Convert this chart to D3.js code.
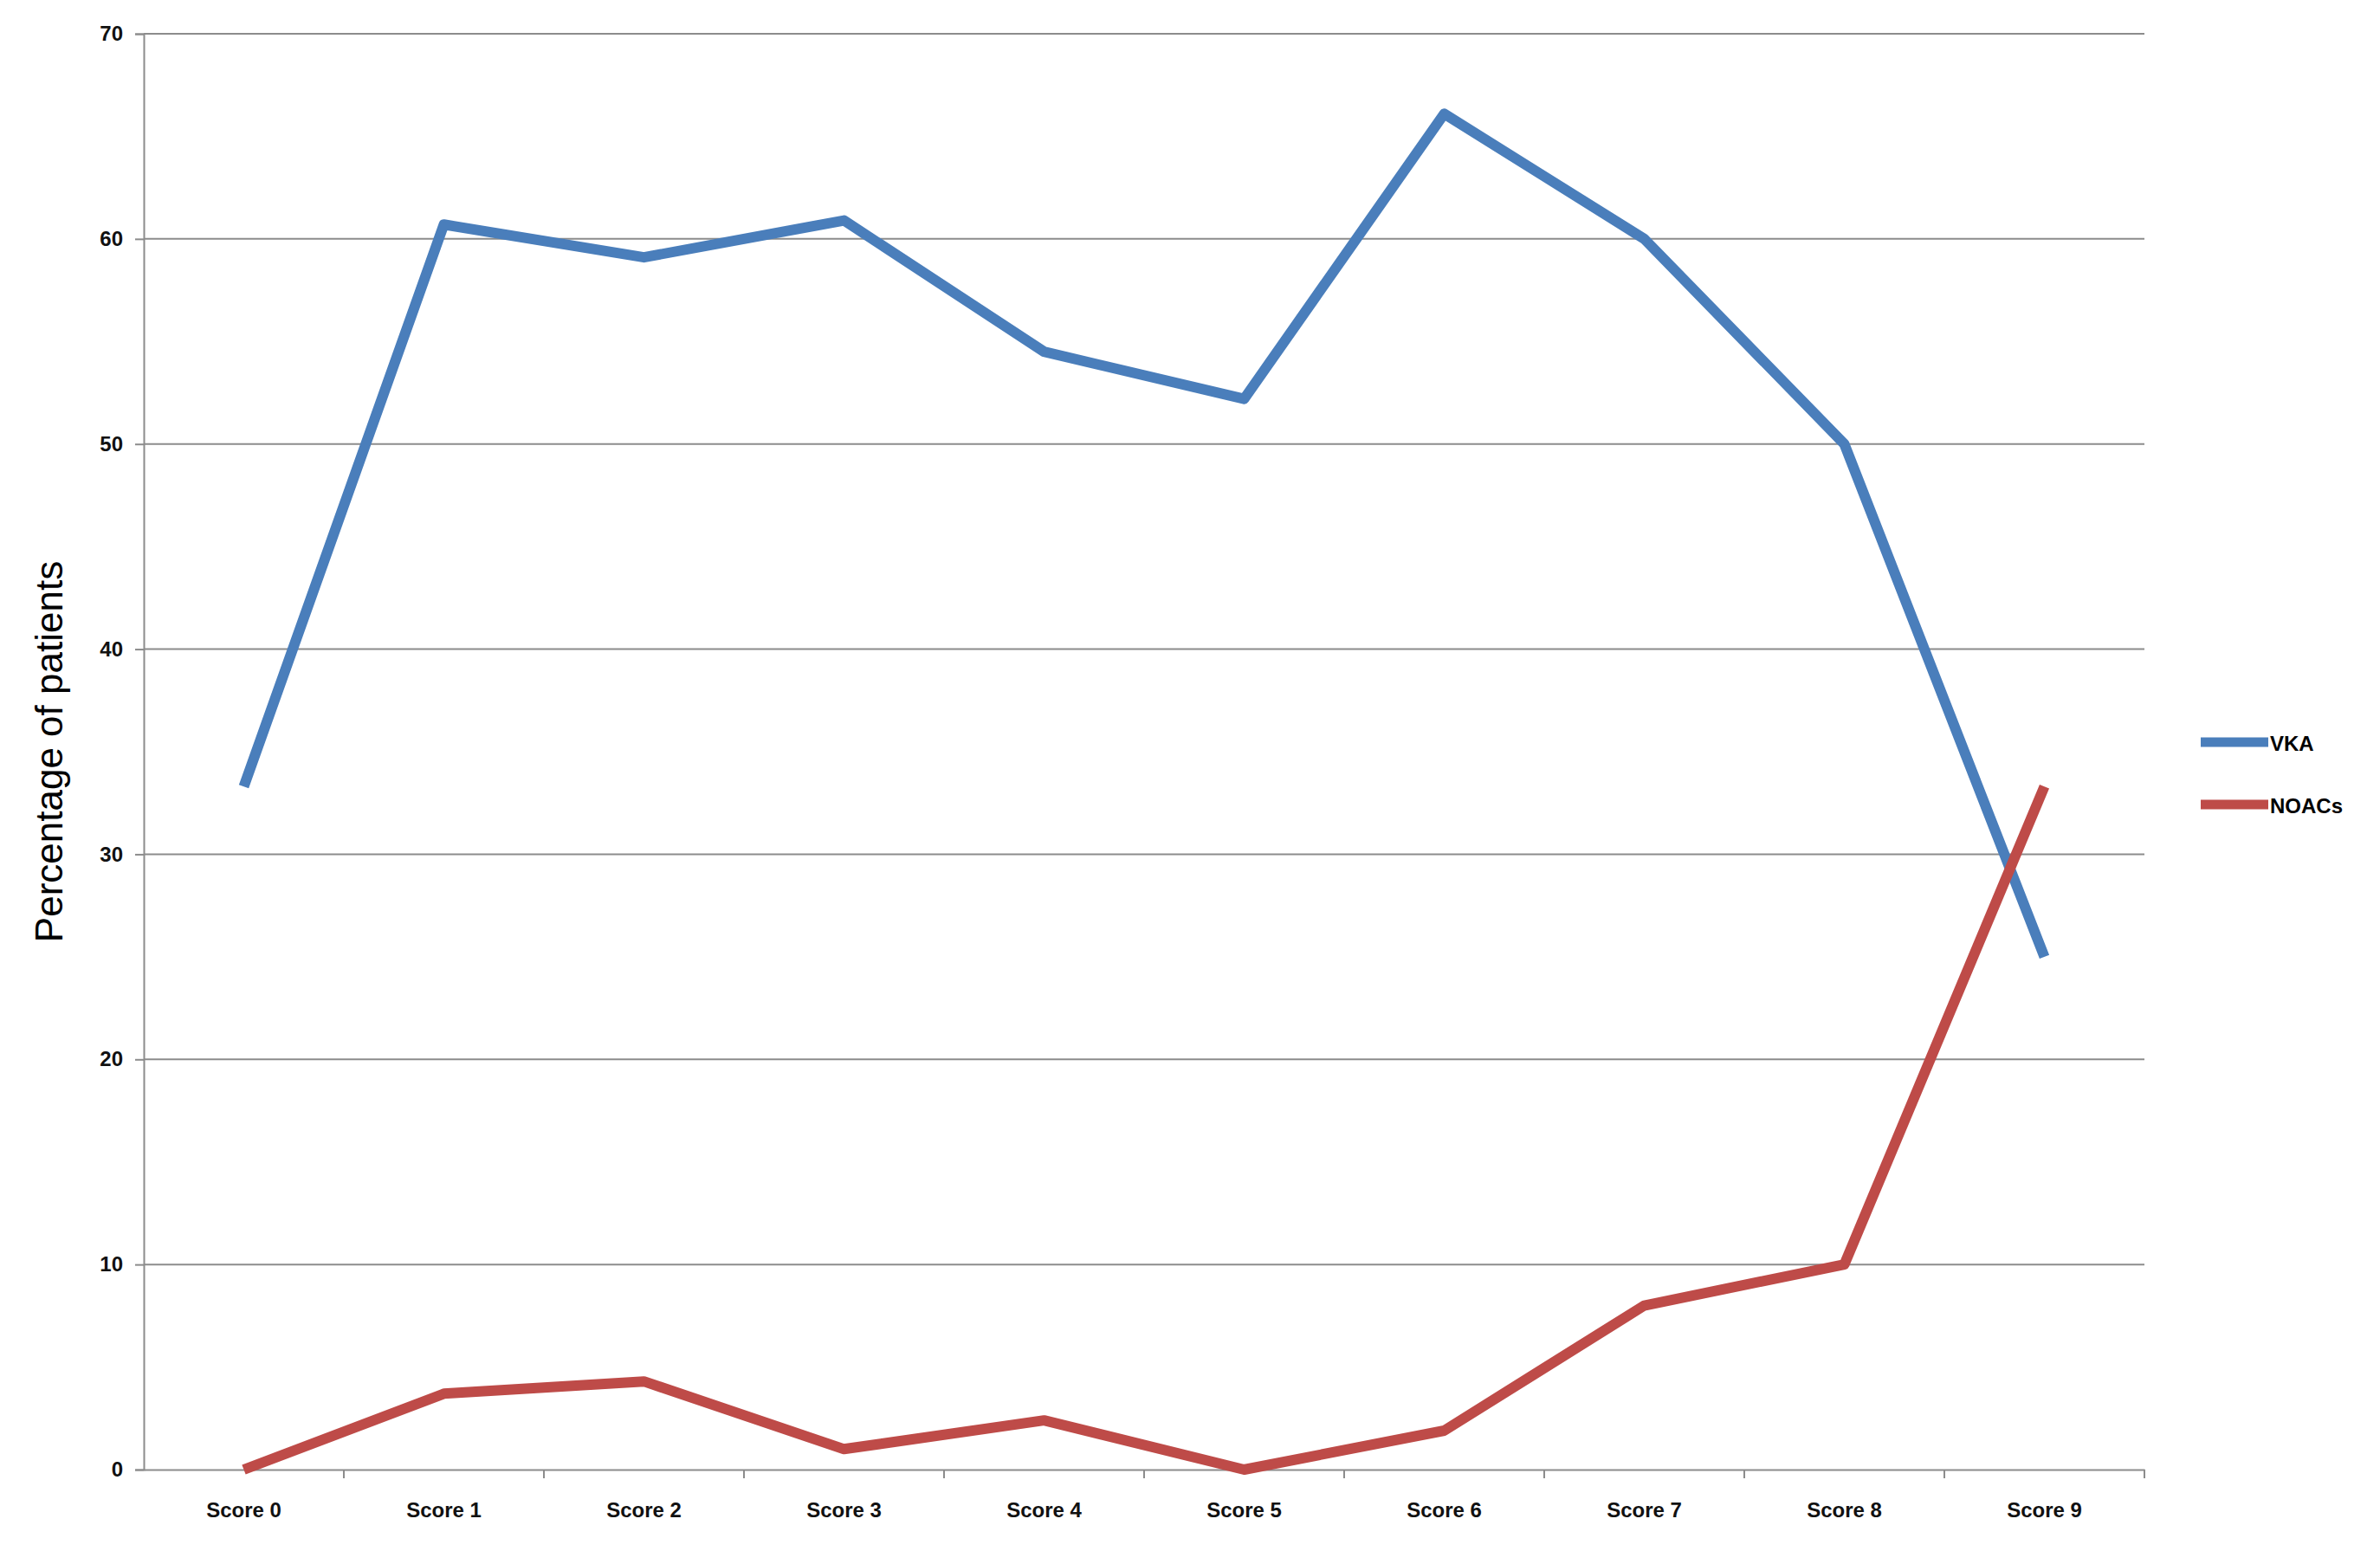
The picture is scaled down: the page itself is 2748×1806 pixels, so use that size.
<!DOCTYPE html>
<html lang="en">
<head>
  <meta charset="UTF-8" />
  <title>Percentage of patients by score</title>
  <style>
    body { margin: 0; background: #fff; }
    svg { display: block; }
    .tick text { font-family: "Liberation Sans", Arial, sans-serif; font-weight: bold; font-size: 24px; fill: #111; }
  </style>
</head>
<body>
  <svg width="2748" height="1806"></svg>
  <script src="https://d3js.org/d3.v7.min.js"></script>
  <script>
    const categories = ["Score 0", "Score 1", "Score 2", "Score 3", "Score 4", "Score 5", "Score 6", "Score 7", "Score 8", "Score 9"];
    const vka = [33.3, 60.7, 59.1, 60.9, 54.5, 52.2, 66.1, 60.0, 50.0, 25.0];
    const noacs = [0, 3.7, 4.3, 1.0, 2.4, 0, 1.9, 8.0, 10.0, 33.3];
    const yTicks = [0, 10, 20, 30, 40, 50, 60, 70];

    const series = [
      { name: "VKA", values: vka, color: "#4a7ebb" },
      { name: "NOACs", values: noacs, color: "#be4b48" }
    ];

    const svg = d3.select("svg");
    const margin = { top: 39, left: 166, right: 272, bottom: 109 };
    const width = 2748, height = 1806;

    const x = d3.scaleBand().domain(categories).range([margin.left, width - margin.right]);
    const y = d3.scaleLinear().domain([0, 70]).range([height - margin.bottom, margin.top]);

    // gridlines
    svg.append("g").selectAll("line").data(yTicks.slice(1)).join("line")
      .attr("x1", margin.left).attr("x2", width - margin.right)
      .attr("y1", d => y(d)).attr("y2", d => y(d))
      .attr("stroke", "#8c8c8c").attr("stroke-width", 2);

    // y axis
    const yAxis = svg.append("g")
      .attr("transform", `translate(${margin.left},0)`)
      .call(d3.axisLeft(y).tickValues(yTicks).tickSize(10).tickPadding(14));
    yAxis.selectAll("path, line").attr("stroke", "#8c8c8c").attr("stroke-width", 2);

    // x axis
    const xAxis = svg.append("g")
      .attr("transform", `translate(0,${y(0)})`)
      .call(d3.axisBottom(x).tickSize(0).tickPadding(38));
    xAxis.select("path").attr("stroke", "#8c8c8c").attr("stroke-width", 2);
    xAxis.append("g").selectAll("line").data(categories.slice(1).concat(["end"])).join("line")
      .attr("x1", (d, i) => margin.left + x.step() * (i + 1))
      .attr("x2", (d, i) => margin.left + x.step() * (i + 1))
      .attr("y1", 0).attr("y2", 10)
      .attr("stroke", "#8c8c8c").attr("stroke-width", 2);

    // y title
    svg.append("text")
      .attr("transform", `translate(72,${(y(0) + y(70)) / 2}) rotate(-90)`)
      .attr("text-anchor", "middle")
      .style("font-family", "'Liberation Sans', Arial, sans-serif")
      .style("font-size", "44px")
      .text("Percentage of patients");

    const line = d3.line()
      .x((d, i) => x(categories[i]) + x.bandwidth() / 2)
      .y(d => y(d));

    svg.append("g").selectAll("path").data(series).join("path")
      .attr("d", d => line(d.values))
      .attr("fill", "none")
      .attr("stroke", d => d.color)
      .attr("stroke-width", 12)
      .attr("stroke-linejoin", "round");

    // legend
    const legend = svg.append("g").selectAll("g").data(series).join("g")
      .attr("transform", (d, i) => `translate(2541,${857 + i * 72})`);
    legend.append("line")
      .attr("x1", 0).attr("x2", 78)
      .attr("stroke", d => d.color).attr("stroke-width", 11);
    legend.append("text")
      .attr("x", 80).attr("y", 10)
      .style("font-family", "'Liberation Sans', Arial, sans-serif")
      .style("font-weight", "bold")
      .style("font-size", "24px")
      .text(d => d.name);
  </script>
</body>
</html>
